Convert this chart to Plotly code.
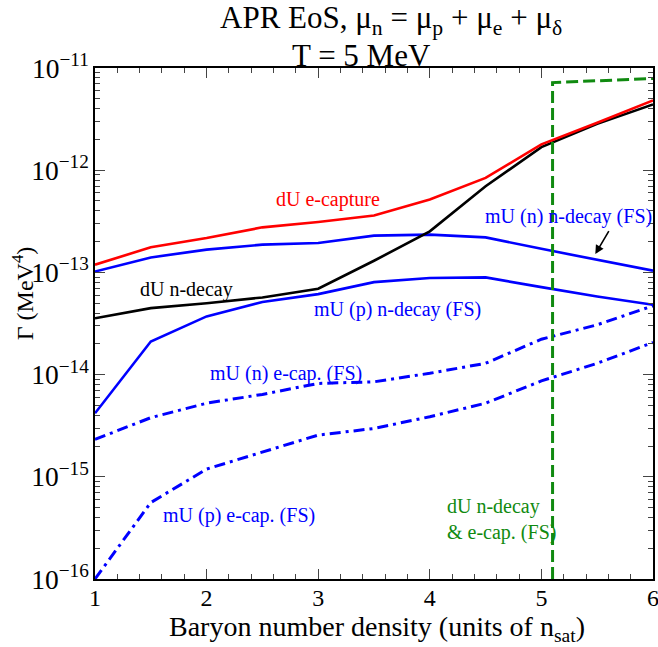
import plotly.graph_objects as go

# ---- data ----
density = [1, 1.5, 2, 2.5, 3, 3.5, 4, 4.5, 5, 5.5, 6]
dU_ecapture = [1.19e-13, 1.76e-13, 2.17e-13, 2.76e-13, 3.11e-13, 3.6e-13, 5.16e-13, 8.4e-13, 1.79e-12, 2.91e-12, 4.82e-12]
dU_ndecay = [3.56e-14, 4.47e-14, 5.0e-14, 5.69e-14, 6.92e-14, 1.3e-13, 2.52e-13, 6.97e-13, 1.68e-12, 2.84e-12, 4.4e-12]
mU_n_ndecay_FS = [1.02e-13, 1.40e-13, 1.67e-13, 1.87e-13, 1.94e-13, 2.29e-13, 2.34e-13, 2.2e-13, 1.7e-13, 1.33e-13, 1.04e-13]
mU_p_ndecay_FS = [4.18e-15, 2.11e-14, 3.71e-14, 5.13e-14, 6.13e-14, 8.03e-14, 8.8e-14, 8.93e-14, 7.18e-14, 5.82e-14, 4.82e-14]
mU_n_ecap_FS = [2.32e-15, 3.79e-15, 5.25e-15, 6.4e-15, 8.2e-15, 8.5e-15, 1.03e-14, 1.29e-14, 2.22e-14, 3.07e-14, 4.71e-14]
mU_p_ecap_FS = [1.0e-16, 5.6e-16, 1.19e-15, 1.76e-15, 2.56e-15, 2.97e-15, 3.87e-15, 5.25e-15, 8.67e-15, 1.29e-14, 2.06e-14]
dU_FS_density = [5.1, 5.1, 6]
dU_FS_rate = [1e-16, 7.2e-12, 7.9e-12]

x_ticks = [1, 2, 3, 4, 5, 6]

FONT = "Liberation Serif"
BLUE = "#0000ff"
RED = "#ff0000"
GREEN = "#108a10"
DASHDOT = "11px,5px,3px,5px"

fig = go.Figure()

def add(x, y, color, dash="solid", width=2.6):
    fig.add_trace(go.Scatter(x=x, y=y, mode="lines",
                             line=dict(color=color, width=width, dash=dash),
                             showlegend=False, hoverinfo="skip"))

add(density, mU_p_ecap_FS, BLUE, DASHDOT, 3)
add(density, mU_n_ecap_FS, BLUE, DASHDOT, 3)
add(density, mU_p_ndecay_FS, BLUE)
add(density, mU_n_ndecay_FS, BLUE)
add(density, dU_ndecay, "black")
add(density, dU_ecapture, RED)
add(dU_FS_density, dU_FS_rate, GREEN, "12px,5px", 3)

def label(text, x, ylog, color, xanchor="center", align="center"):
    fig.add_annotation(x=x, y=ylog, xref="x", yref="y", text=text, showarrow=False,
                       font=dict(family=FONT, size=20, color=color),
                       xanchor=xanchor, yanchor="middle", align=align)

label("dU e-capture", 3.085, -12.29, RED)
label("dU n-decay", 1.82, -13.165, "black")
label("mU (p) n-decay (FS)", 3.71, -13.365, BLUE)
label("mU (n) n-decay (FS)", 5.24, -12.45, BLUE)
label("mU (n) e-cap. (FS)", 2.707, -13.985, BLUE)
label("mU (p) e-cap. (FS)", 2.29, -15.38, BLUE)
label("dU n-decay<br>& e-cap. (FS)", 4.136, -15.42, GREEN, xanchor="left", align="left")

# arrow
fig.add_annotation(x=5.483, y=-12.821, ax=5.612, ay=-12.581, xref="x", yref="y",
                   axref="x", ayref="y", text="", showarrow=True,
                   arrowhead=2, arrowsize=1.1, arrowwidth=1.6, arrowcolor="black")

# titles
fig.add_annotation(x=0.530, y=1.093, xref="paper", yref="paper",
                   text="APR EoS, μ<sub>n</sub> = μ<sub>p</sub> + μ<sub>e</sub> + μ<sub>δ</sub>",
                   showarrow=False, font=dict(family=FONT, size=31, color="black"),
                   xanchor="center", yanchor="middle")
fig.add_annotation(x=0.478, y=1.025, xref="paper", yref="paper",
                   text="T = 5 MeV", showarrow=False,
                   font=dict(family=FONT, size=31, color="black"),
                   xanchor="center", yanchor="middle")
fig.add_annotation(x=0.505, y=-0.097, xref="paper", yref="paper",
                   text="Baryon number density (units of n<sub>sat</sub>)", showarrow=False,
                   font=dict(family=FONT, size=28, color="black"),
                   xanchor="center", yanchor="middle")
fig.add_annotation(x=-0.13, y=0.56, xref="paper", yref="paper",
                   text="Γ (MeV<sup>4</sup>)", showarrow=False, textangle=-90,
                   font=dict(family=FONT, size=24, color="black"),
                   xanchor="center", yanchor="middle")

fig.update_layout(
    width=658, height=647,
    margin=dict(l=95, r=5, t=68, b=68, autoexpand=False),
    paper_bgcolor="white", plot_bgcolor="white",
    font=dict(family=FONT, color="black"),
    xaxis=dict(range=[1, 6], tickvals=x_ticks, ticks="inside", ticklen=10, tickwidth=1.2,
               showline=True, linecolor="black", linewidth=1.5, mirror="ticks",
               showgrid=False, zeroline=False, automargin=False,
               ticklabeloverflow="allow", ticklabelstandoff=-4,
               tickfont=dict(family=FONT, size=24),
               minor=dict(ticks="inside", ticklen=5, dtick=0.2, tickwidth=1, showgrid=False)),
    yaxis=dict(type="log", range=[-16, -11], dtick=1, exponentformat="power",
               ticks="inside", ticklen=10, tickwidth=1.2,
               showline=True, linecolor="black", linewidth=1.5, mirror="ticks",
               showgrid=False, zeroline=False, automargin=False,
               ticklabeloverflow="allow",
               tickfont=dict(family=FONT, size=22),
               minor=dict(ticks="inside", ticklen=5, dtick="D1", tickwidth=1, showgrid=False)),
)

fig.write_html("out.html", config={"displayModeBar": False},
               post_script="document.body.style.margin='0px';")
